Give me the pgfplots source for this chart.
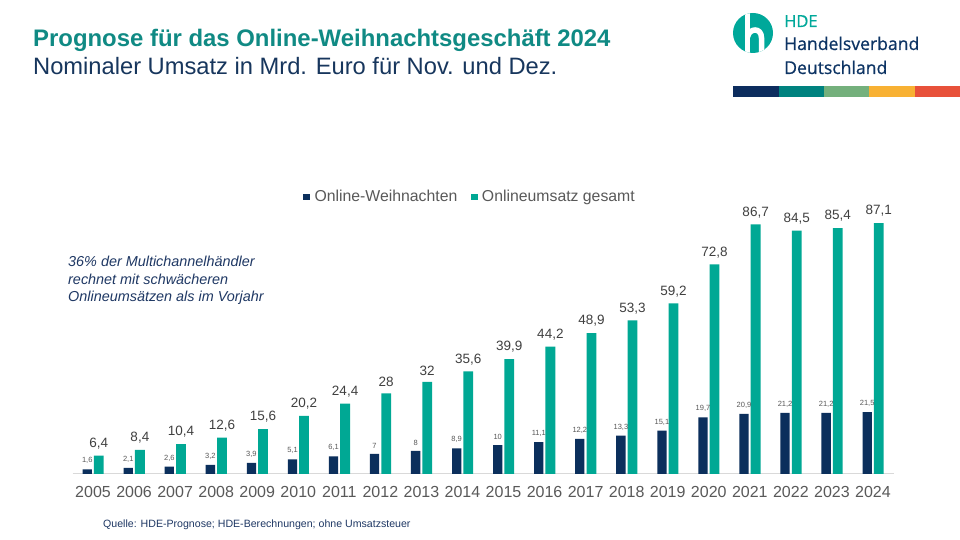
\documentclass[border=0pt]{standalone}
\usepackage{pgfplots}
\pgfplotsset{compat=1.18}
\usepackage{fontspec}
\setmainfont{Liberation Sans}
\newfontfamily\logofont[FakeBold=0.7]{Open Sans}
\definecolor{navy}{HTML}{0B2F5C}
\definecolor{tealbar}{HTML}{00A894}
\definecolor{titleteal}{HTML}{108A84}
\definecolor{subnavy}{HTML}{17365D}
\definecolor{annot}{HTML}{1F3864}
\definecolor{gtext}{HTML}{595959}
\definecolor{vtext}{HTML}{404040}
\definecolor{lgray}{HTML}{D9D9D9}
\definecolor{cA}{HTML}{0D2D5E}
\definecolor{cB}{HTML}{00827F}
\definecolor{cC}{HTML}{74B07C}
\definecolor{cD}{HTML}{F8B133}
\definecolor{cE}{HTML}{E8513A}
\definecolor{logoteal}{HTML}{00A89A}
\definecolor{logonavy}{HTML}{0D3464}
\begin{document}
\begin{tikzpicture}[x=1pt,y=1pt]
\useasboundingbox (0,0) rectangle (960,540);
\fill[white] (0,0) rectangle (960,540);
% titles
\node[anchor=base west,inner sep=0pt,text=titleteal,font=\fontsize{23.9}{26}\selectfont\bfseries] at (33,540-46.5) {Prognose für das Online-Weihnachtsgeschäft 2024};
\node[anchor=base west,inner sep=0pt,text=subnavy,font=\fontsize{23.7}{26}\selectfont] at (33,540-75) {Nominaler Umsatz in Mrd. Euro für Nov. und Dez.};
% logo
\begin{scope}
\fill[logoteal] (753,540-33) circle (20);
\clip (753,540-33) circle (20);
\draw[white,line width=5.5] (747.5,540-10) -- (747.5,540-56);
\draw[white,line width=5.5] (747.5,540-37) .. controls (749,540-28) and (761.5,540-27) .. (761.5,540-38) -- (761.5,540-56);
\end{scope}
\node[anchor=base west,inner sep=0pt,text=logoteal,font=\logofont\fontsize{16.5}{17}\selectfont] at (784,540-27) {HDE};
\node[anchor=base west,inner sep=0pt,text=logonavy,font=\logofont\fontsize{17.6}{18}\selectfont] at (784,540-50) {Handelsverband};
\node[anchor=base west,inner sep=0pt,text=logonavy,font=\logofont\fontsize{17.6}{18}\selectfont] at (784,540-74) {Deutschland};
\fill[cA] (733,540-97) rectangle (779,540-86);
\fill[cB] (779,540-97) rectangle (824,540-86);
\fill[cC] (824,540-97) rectangle (869,540-86);
\fill[cD] (869,540-97) rectangle (915,540-86);
\fill[cE] (915,540-97) rectangle (960,540-86);
% annotation
\node[anchor=base west,inner sep=0pt,text=annot,font=\fontsize{14.4}{16}\selectfont\itshape] at (68,540-267) {36\% der Multichannelhändler};
\node[anchor=base west,inner sep=0pt,text=annot,font=\fontsize{14.4}{16}\selectfont\itshape] at (68,540-284.5) {rechnet mit schwächeren};
\node[anchor=base west,inner sep=0pt,text=annot,font=\fontsize{14.4}{16}\selectfont\itshape] at (68,540-302) {Onlineumsätzen als im Vorjahr};
% source
\node[anchor=base west,inner sep=0pt,text=annot,font=\fontsize{10.6}{12}\selectfont] at (103,540-527.5) {Quelle: HDE-Prognose; HDE-Berechnungen; ohne Umsatzsteuer};
\begin{axis}[
  at={(72.5pt,66pt)}, anchor=south west,
  scale only axis, width=821pt, height=288pt,
  xmin=-0.5, xmax=19.5, ymin=0, ymax=100,
  axis y line=none, axis x line*=bottom,
  x axis line style={draw=lgray,line width=1pt,-},
  xtick={0,...,19},
  xticklabels={2005,2006,2007,2008,2009,2010,2011,2012,2013,2014,2015,2016,2017,2018,2019,2020,2021,2022,2023,2024},
  major tick length=0pt,
  xticklabel style={font=\fontsize{16}{18}\selectfont,text=gtext,inner sep=0pt,yshift=-12pt},
  ybar, clip=false,
  /pgf/number format/.cd, use comma, precision=1, assume math mode=true,
  /pgfplots/.cd,
  legend style={at={(0.484,0.962)},anchor=center,draw=none,fill=none,legend columns=2,
    font=\fontsize{15.8}{17}\selectfont,text=gtext,
    /tikz/every even column/.append style={column sep=12pt},
    inner sep=0pt,
    nodes={inner sep=1.5pt}},
  legend image code/.code={\fill[#1] (0pt,-3.3pt) rectangle (6.6pt,3.3pt);},
]
\addplot[fill=navy,draw=none,bar width=9.3pt,bar shift=-5.8pt,
  nodes near coords,
  every node near coord/.append style={font=\fontsize{7.5}{8}\selectfont,text=gtext,yshift=2pt}]
  coordinates {(0,1.6)(1,2.1)(2,2.6)(3,3.2)(4,3.9)(5,5.1)(6,6.1)(7,7)(8,8)(9,8.9)(10,10)(11,11.1)(12,12.2)(13,13.3)(14,15.1)(15,19.7)(16,20.9)(17,21.2)(18,21.2)(19,21.5)};
\addplot[fill=tealbar,draw=none,bar width=9.8pt,bar shift=5.8pt,
  nodes near coords,
  every node near coord/.append style={font=\fontsize{13.5}{15}\selectfont,text=vtext,yshift=3pt}]
  coordinates {(0,6.4)(1,8.4)(2,10.4)(3,12.6)(4,15.6)(5,20.2)(6,24.4)(7,28)(8,32)(9,35.6)(10,39.9)(11,44.2)(12,48.9)(13,53.3)(14,59.2)(15,72.8)(16,86.7)(17,84.5)(18,85.4)(19,87.1)};
\legend{\hspace{3pt}Online-Weihnachten,\hspace{3pt}Onlineumsatz gesamt}
\end{axis}
\end{tikzpicture}
\end{document}
